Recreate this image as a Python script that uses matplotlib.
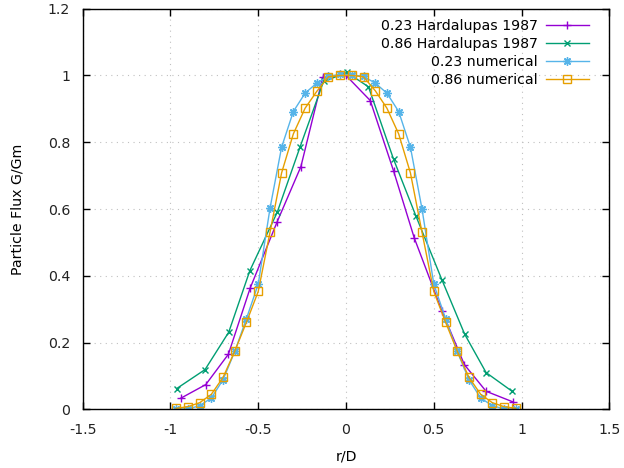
import matplotlib
matplotlib.use("Agg")
import matplotlib.pyplot as plt
import numpy as np

# --- data ------------------------------------------------------------------
# Hardalupas 1987, Stk 0.23
r_h023 = [-0.942, -0.799, -0.670, -0.546, -0.392, -0.257, -0.132, 0.0,
          0.138, 0.271, 0.389, 0.547, 0.674, 0.798, 0.952]
f_h023 = [0.033, 0.074, 0.165, 0.363, 0.562, 0.727, 0.995, 1.0,
          0.925, 0.714, 0.513, 0.294, 0.134, 0.054, 0.022]

# Hardalupas 1987, Stk 0.86
r_h086 = [-0.965, -0.803, -0.668, -0.548, -0.392, -0.261, -0.128, 0.005,
          0.128, 0.271, 0.399, 0.547, 0.676, 0.798, 0.946]
f_h086 = [0.062, 0.119, 0.231, 0.415, 0.590, 0.787, 0.982, 1.009,
          0.966, 0.749, 0.578, 0.387, 0.225, 0.110, 0.054]

# numerical, same 30 radial cells for both cases
r_num = [-0.967, -0.900, -0.833, -0.767, -0.700, -0.633, -0.567, -0.500,
         -0.433, -0.367, -0.300, -0.233, -0.167, -0.100, -0.033,
         0.033, 0.100, 0.167, 0.233, 0.300, 0.367, 0.433, 0.500,
         0.567, 0.633, 0.700, 0.767, 0.833, 0.900, 0.967]
f_n023 = [0.001, 0.001, 0.011, 0.034, 0.089, 0.174, 0.272, 0.375,
          0.602, 0.785, 0.892, 0.947, 0.977, 0.997, 1.004,
          1.002, 0.997, 0.977, 0.947, 0.892, 0.785, 0.600, 0.375,
          0.272, 0.174, 0.089, 0.034, 0.011, 0.001, 0.001]
f_n086 = [0.003, 0.008, 0.020, 0.045, 0.096, 0.175, 0.261, 0.353,
          0.530, 0.708, 0.825, 0.902, 0.952, 0.996, 1.0,
          1.0, 0.996, 0.954, 0.902, 0.825, 0.708, 0.530, 0.353,
          0.261, 0.175, 0.096, 0.045, 0.020, 0.008, 0.003]

xticks = [-1.5, -1, -0.5, 0, 0.5, 1, 1.5]
xticklabels = ["-1.5", "-1", "-0.5", "0", "0.5", "1", "1.5"]
yticks = [0, 0.2, 0.4, 0.6, 0.8, 1.0, 1.2]
yticklabels = ["0", "0.2", "0.4", "0.6", "0.8", "1", "1.2"]

# --- plot ------------------------------------------------------------------
plt.rcParams["font.family"] = "DejaVu Sans"
plt.rcParams["font.size"] = 10.2

fig = plt.figure(figsize=(6.24, 4.68), dpi=100)
ax = fig.add_axes([0.1325, 0.1254, 0.844, 0.856])

ax.plot(r_h023, f_h023, "-", marker="+", color="#9400d3", lw=1, ms=6,
        mew=1, label="0.23 Hardalupas 1987")
ax.plot(r_h086, f_h086, "-", marker="x", color="#009e73", lw=1, ms=5,
        mew=1, label="0.86 Hardalupas 1987")
ax.plot(r_num, f_n023, "-", marker=(8, 2, 0), color="#56b4e9", lw=1, ms=6,
        mew=1, label="0.23 numerical")
ax.plot(r_num, f_n086, "-", marker="s", color="#e69f00", lw=1, ms=5.5,
        mew=1, mfc="none", label="0.86 numerical")

ax.set_xlim(-1.5, 1.5)
ax.set_ylim(0, 1.2)
ax.set_xticks(xticks)
ax.set_xticklabels(xticklabels)
ax.set_yticks(yticks)
ax.set_yticklabels(yticklabels)
ax.tick_params(direction="in", length=5, width=1, top=True, right=True,
               colors="black", labelcolor="#222222")
ax.tick_params(axis="x", pad=10)
ax.tick_params(axis="y", pad=9)
ax.grid(True, linestyle=(0, (1, 4)), color="#c0c0c0", lw=0.8)
for s in ax.spines.values():
    s.set_linewidth(1)

ax.set_xlabel("r/D", labelpad=9)
ax.set_ylabel("Particle Flux G/Gm", labelpad=17)

ax.legend(loc="upper right", bbox_to_anchor=(0.982, 1.003), frameon=False,
          markerfirst=False, handlelength=3.0, handletextpad=0.6,
          labelspacing=0.28, borderpad=0.3)

fig.savefig("out.png", dpi=100)
